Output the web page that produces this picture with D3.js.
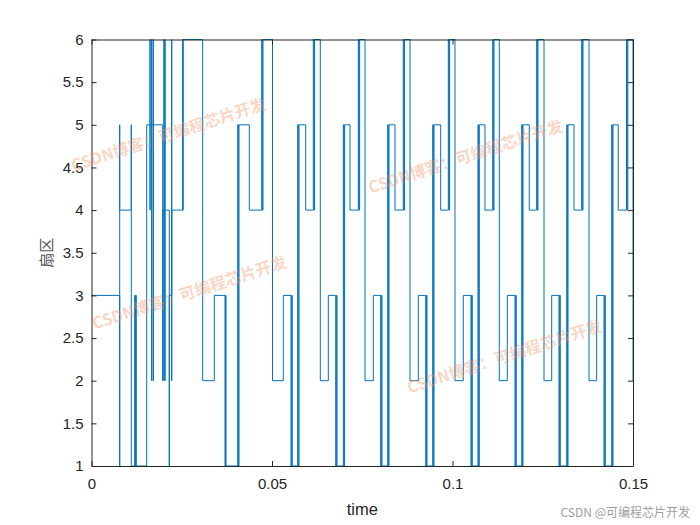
<!DOCTYPE html>
<html>
<head>
<meta charset="utf-8">
<script src="https://cdn.jsdelivr.net/npm/d3@7"></script>
<style>
  html, body { margin: 0; padding: 0; background: #fff; }
  svg { display: block; }
</style>
</head>
<body>
<svg id="chart" width="700" height="525"></svg>
<script>
// ---- data: step signal (time at which the sector value changes, new value) ----
const stepTimes = [
  0, 0.00781, 0.00781, 0.00781, 0.01102, 0.01102, 0.01197, 0.01213, 0.01224, 0.01241,
  0.01529, 0.01621, 0.01621, 0.01621, 0.01668, 0.01668, 0.01668, 0.01712, 0.01712, 0.01712,
  0.01972, 0.01972, 0.02008, 0.02008, 0.02008, 0.02036, 0.02036, 0.02036, 0.02155, 0.02155,
  0.02222, 0.02222, 0.02222, 0.02526, 0.02532, 0.02537, 0.03080, 0.03402, 0.03698, 0.03712, 0.03726,
  0.04050, 0.04068, 0.04086, 0.04371, 0.04715, 0.04733, 0.04751, 0.05014, 0.05313,
  0.05526, 0.05544, 0.05562, 0.05712, 0.05730, 0.05748, 0.05934, 0.06144, 0.06162, 0.06180, 0.06338, 0.06560,
  0.06765, 0.06783, 0.06801, 0.06975, 0.06993, 0.07011, 0.07161, 0.07391, 0.07409, 0.07427, 0.07576, 0.07806,
  0.08011, 0.08029, 0.08047, 0.08205, 0.08223, 0.08241, 0.08407, 0.08637, 0.08655, 0.08673, 0.08823, 0.09053,
  0.09258, 0.09276, 0.09294, 0.09452, 0.09470, 0.09488, 0.09673, 0.09884, 0.09902, 0.09920, 0.10069, 0.10299,
  0.10512, 0.10530, 0.10548, 0.10706, 0.10724, 0.10742, 0.10900, 0.11114, 0.11132, 0.11150, 0.11296, 0.11518,
  0.11731, 0.11749, 0.11767, 0.11917, 0.11935, 0.11953, 0.12127, 0.12332, 0.12350, 0.12368, 0.12535, 0.12748,
  0.12950, 0.12968, 0.12986, 0.13164, 0.13182, 0.13200, 0.13366, 0.13579, 0.13597, 0.13615, 0.13781, 0.13994,
  0.14197, 0.14215, 0.14233, 0.14410, 0.14428, 0.14446, 0.14590, 0.14820, 0.14838, 0.14856, 0.15
];
const stepSectors = [
  3, 1, 5, 4, 5, 1, 3, 1, 3, 1,
  5, 6, 4, 5, 6, 2, 5, 6, 2, 5,
  2, 4, 6, 2, 4, 6, 2, 4, 1, 3,
  6, 2, 4, 6, 4, 6, 2, 3, 1, 3, 1,
  5, 1, 5, 4, 6, 4, 6, 2, 3,
  1, 3, 1, 5, 1, 5, 4, 6, 4, 6, 2, 3,
  1, 3, 1, 5, 1, 5, 4, 6, 4, 6, 2, 3,
  1, 3, 1, 5, 1, 5, 4, 6, 4, 6, 2, 3,
  1, 3, 1, 5, 1, 5, 4, 6, 4, 6, 2, 3,
  1, 3, 1, 5, 1, 5, 4, 6, 4, 6, 2, 3,
  1, 3, 1, 5, 1, 5, 4, 6, 4, 6, 2, 3,
  1, 3, 1, 5, 1, 5, 4, 6, 4, 6, 2, 3,
  1, 3, 1, 5, 1, 5, 4, 6, 4, 6, 2
];
const xTicks = [0, 0.05, 0.1, 0.15];
const xTickLabels = ["0", "0.05", "0.1", "0.15"];
const yTicks = [1, 1.5, 2, 2.5, 3, 3.5, 4, 4.5, 5, 5.5, 6];
const yTickLabels = ["1", "1.5", "2", "2.5", "3", "3.5", "4", "4.5", "5", "5.5", "6"];
const xLabel = "time";
const yLabel = "扇区";
const watermarkText = "CSDN博客：可编程芯片开发";
const footerText = "CSDN @可编程芯片开发";

// ---- layout ----
const svg = d3.select("#chart");
const L = 91.5, R = 633, T = 39.5, B = 466;
const x = d3.scaleLinear().domain([0, 0.15]).range([L, R]);
const y = d3.scaleLinear().domain([1, 6]).range([B, T]);
const axisColor = "#262626";
const tickFont = "Liberation Sans, Arial, Helvetica, sans-serif";

// data line
const pts = stepTimes.map((t, i) => [t, stepSectors[i]]);
const line = d3.line().x(d => x(d[0])).y(d => y(d[1])).curve(d3.curveStepAfter);
svg.append("path")
  .datum(pts)
  .attr("d", line)
  .attr("fill", "none")
  .attr("stroke", "#0072BD")
  .attr("stroke-width", 1);

// axes (MATLAB style box with inward ticks)
const tl = 5;
const gB = svg.append("g").attr("transform", `translate(0,${B})`)
  .call(d3.axisBottom(x).tickValues(xTicks).tickSizeInner(-tl).tickSizeOuter(0).tickPadding(12)
        .tickFormat((d, i) => xTickLabels[i]));
const gL = svg.append("g").attr("transform", `translate(${L},0)`)
  .call(d3.axisLeft(y).tickValues(yTicks).tickSizeInner(-tl).tickSizeOuter(0).tickPadding(8)
        .tickFormat((d, i) => yTickLabels[i]));
const gT = svg.append("g").attr("transform", `translate(0,${T})`)
  .call(d3.axisTop(x).tickValues(xTicks).tickSizeInner(-tl).tickSizeOuter(0).tickFormat(""));
const gR = svg.append("g").attr("transform", `translate(${R},0)`)
  .call(d3.axisRight(y).tickValues(yTicks).tickSizeInner(-tl).tickSizeOuter(0).tickFormat(""));
[gB, gL, gT, gR].forEach(g => {
  g.select(".domain").attr("stroke", axisColor).attr("stroke-width", 1);
  g.selectAll(".tick line").attr("stroke", axisColor);
  g.selectAll(".tick text").attr("fill", axisColor).style("font-family", tickFont).style("font-size", "15px");
});

// axis labels
svg.append("text").attr("x", (L + R) / 2).attr("y", 515)
  .attr("text-anchor", "middle").attr("fill", axisColor)
  .style("font-family", tickFont).style("font-size", "16.5px").text(xLabel);
svg.append("text").attr("transform", `translate(52,${(T + B) / 2}) rotate(-90)`)
  .attr("text-anchor", "middle").attr("fill", "#555")
  .style("font-family", "Noto Sans CJK SC, sans-serif").style("font-size", "15px").text(yLabel);

// watermarks
const marks = [[169, 136], [466, 158], [190, 294], [505, 358]];
marks.forEach(([cx, cy]) => {
  svg.append("text")
    .attr("transform", `translate(${cx},${cy}) rotate(-18)`)
    .attr("text-anchor", "middle").attr("dominant-baseline", "middle")
    .attr("fill", "rgb(240,150,100)").attr("fill-opacity", 0.4)
    .style("font-family", "Noto Sans CJK SC, sans-serif").style("font-size", "16px").style("font-weight", "bold")
    .text(watermarkText);
});
svg.append("text").attr("x", 690).attr("y", 517).attr("text-anchor", "end")
  .attr("fill", "#a0a0a0").style("font-family", "Noto Sans CJK SC, sans-serif").style("font-size", "12px")
  .text(footerText);
</script>
</body>
</html>
